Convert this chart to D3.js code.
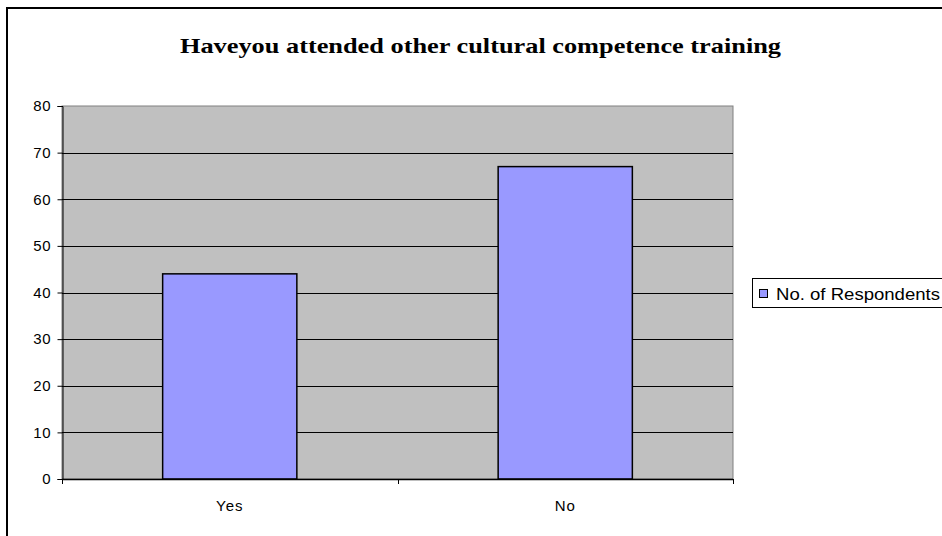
<!DOCTYPE html>
<html>
<head>
<meta charset="utf-8">
<script src="https://cdn.jsdelivr.net/npm/d3@7/dist/d3.min.js"></script>
<style>
  html, body { margin: 0; padding: 0; background: #fff; }
  svg { display: block; }
</style>
</head>
<body>
<svg id="chart" width="942" height="536"></svg>
<script>
// Survey responses
const categories = ["Yes", "No"];
const respondents = [44, 67];
const seriesName = "No. of Respondents";
const yTicks = [0, 10, 20, 30, 40, 50, 60, 70, 80];
const titleText = "Haveyou attended other cultural competence training";

const svg = d3.select("#chart");

const plot = { left: 62, right: 733, top: 106, bottom: 479 };

const x = d3.scaleBand().domain(categories).range([plot.left, plot.right]).padding(0);
const y = d3.scaleLinear().domain([0, 80]).range([plot.bottom, plot.top]);

// Outer chart frame
svg.append("rect")
  .attr("x", 7).attr("y", 8)
  .attr("width", 960).attr("height", 560)
  .attr("fill", "#fff").attr("stroke", "#000").attr("stroke-width", 2);

// Title
svg.append("text")
  .attr("x", 180).attr("y", 53)
  .attr("textLength", 601).attr("lengthAdjust", "spacingAndGlyphs")
  .attr("font-family", "'Liberation Serif', 'Times New Roman', serif")
  .attr("font-weight", "bold").attr("font-size", 22)
  .attr("fill", "#000")
  .text(titleText);

// Plot background
svg.append("rect")
  .attr("x", plot.left).attr("y", plot.top)
  .attr("width", plot.right - plot.left).attr("height", plot.bottom - plot.top)
  .attr("fill", "#c0c0c0").attr("stroke", "#808080").attr("stroke-width", 1);

// Horizontal gridlines
svg.append("g").selectAll("line")
  .data(yTicks.filter(t => t > 0 && t < 80))
  .join("line")
  .attr("x1", plot.left).attr("x2", plot.right)
  .attr("y1", d => Math.round(y(d)) + 0.5).attr("y2", d => Math.round(y(d)) + 0.5)
  .attr("stroke", "#000").attr("stroke-width", 1);

// Bars
const barW = x.bandwidth() * 0.4;
svg.append("g").selectAll("rect")
  .data(categories.map((c, i) => ({ c, v: respondents[i] })))
  .join("rect")
  .attr("x", d => x(d.c) + (x.bandwidth() - barW) / 2)
  .attr("y", d => y(d.v))
  .attr("width", barW)
  .attr("height", d => y(0) - y(d.v))
  .attr("fill", "#9999ff").attr("stroke", "#000").attr("stroke-width", 1.5);

// Y axis
const yAxis = d3.axisLeft(y).tickValues(yTicks).tickSize(5).tickPadding(6);
const gy = svg.append("g").attr("transform", `translate(${plot.left + 0.5},0)`).call(yAxis);
gy.select(".domain").attr("stroke", "#000");
gy.selectAll(".tick line").attr("stroke", "#000");
gy.selectAll(".tick text")
  .attr("font-family", "'Liberation Sans', Arial, sans-serif")
  .attr("font-size", 15).attr("letter-spacing", 0.8).attr("fill", "#000");

// X axis baseline and category separators
svg.append("line")
  .attr("x1", plot.left).attr("x2", plot.right)
  .attr("y1", plot.bottom + 0.5).attr("y2", plot.bottom + 0.5)
  .attr("stroke", "#000").attr("stroke-width", 1.5);

const sepPositions = categories.map(c => x(c)).concat([x(categories[categories.length - 1]) + x.bandwidth()]);
svg.append("g").selectAll("line")
  .data(sepPositions)
  .join("line")
  .attr("x1", d => Math.round(d) + 0.5).attr("x2", d => Math.round(d) + 0.5)
  .attr("y1", plot.bottom).attr("y2", plot.bottom + 5)
  .attr("stroke", "#000");

svg.append("g").selectAll("text")
  .data(categories)
  .join("text")
  .attr("x", d => x(d) + x.bandwidth() / 2)
  .attr("y", 511)
  .attr("text-anchor", "middle")
  .attr("font-family", "'Liberation Sans', Arial, sans-serif")
  .attr("font-size", 15).attr("letter-spacing", 1).attr("fill", "#000")
  .text(d => d);

// Legend
const legend = svg.append("g");
legend.append("rect")
  .attr("x", 752.5).attr("y", 278.5).attr("width", 200).attr("height", 29)
  .attr("fill", "#fff").attr("stroke", "#000");
legend.append("rect")
  .attr("x", 759.5).attr("y", 289.5).attr("width", 8).attr("height", 8)
  .attr("fill", "#9999ff").attr("stroke", "#000");
legend.append("text")
  .attr("x", 776).attr("y", 299.5)
  .attr("textLength", 164).attr("lengthAdjust", "spacingAndGlyphs")
  .attr("font-family", "'Liberation Sans', Arial, sans-serif")
  .attr("font-size", 16).attr("fill", "#000")
  .text(seriesName);
</script>
</body>
</html>
